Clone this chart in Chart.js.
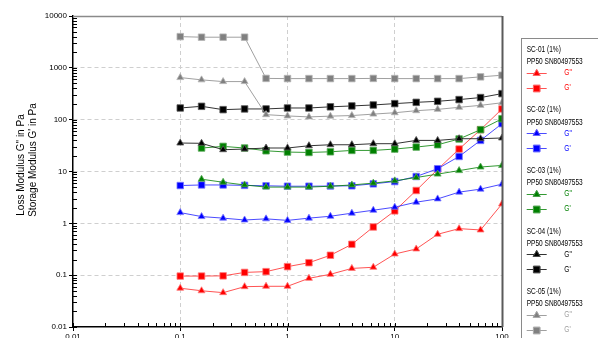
<!DOCTYPE html>
<html>
<head>
<meta charset="utf-8">
<script src="https://cdn.jsdelivr.net/npm/chart.js@4"></script>
<style>
html, body { margin: 0; padding: 0; background: #fff; overflow: hidden; }
#wrap { position: relative; width: 598px; height: 352px; }
</style>
</head>
<body>
<div id="wrap"><canvas id="modulusChart" width="598" height="352"></canvas></div>
<script>
// frequency points (Hz), 5 per decade
const freq = [0.1, 0.158, 0.251, 0.398, 0.631, 1, 1.585, 2.512, 3.981, 6.31, 10, 15.85, 25.12, 39.81, 63.1, 100];

const samples = ['SC-01 (1%)', 'SC-02 (1%)', 'SC-03 (1%)', 'SC-04 (1%)', 'SC-05 (1%)'];
const instrument = 'PP50 SN80497553';

// loss modulus G'' per sample
const sc01Loss = [0.056, 0.050, 0.046, 0.060, 0.061, 0.061, 0.087, 0.104, 0.135, 0.142, 0.256, 0.32, 0.615, 0.79, 0.745, 2.37];
const sc02Loss = [1.61, 1.35, 1.26, 1.16, 1.22, 1.14, 1.26, 1.37, 1.57, 1.79, 2.05, 2.56, 2.96, 4.0, 4.57, 5.7];
const sc03Loss = [null, 7.1, 6.2, 5.5, 5.0, 5.0, 5.0, 5.2, 5.5, 5.97, 6.6, 7.66, 8.9, 10.4, 12.2, 13.1];
const sc04Loss = [35.4, 35, 26.3, 27.1, 28.4, 28.4, 31.4, 32.8, 32.8, 34.4, 34.4, 39.8, 39.8, 42.9, 42.9, 44.3];
const sc05Loss = [649, 586, 543, 543, 125, 118, 113, 117, 120, 128, 136, 149, 158, 173, 189, 212];

// storage modulus G' per sample
const sc01Storage = [0.096, 0.096, 0.097, 0.113, 0.117, 0.146, 0.174, 0.242, 0.394, 0.85, 1.74, 4.3, 11, 27.1, 64.1, 161];
const sc02Storage = [5.36, 5.5, 5.5, 5.4, 5.3, 5.2, 5.2, 5.25, 5.3, 5.78, 6.4, 8.0, 11.3, 19.5, 39.8, 83.7];
const sc03Storage = [null, 28.4, 30.5, 28.4, 25.1, 23.7, 23.3, 24, 25.5, 25.5, 27.1, 29.6, 32.8, 42.4, 64.1, 104];
const sc04Storage = [168, 181, 156, 161, 161, 168, 168, 177, 184, 192, 204, 216, 226, 244, 267, 318];
const sc05Storage = [4000, 3900, 3900, 3900, 625, 620, 620, 620, 620, 625, 620, 620, 620, 620, 670, 720];

const lossSeries = [sc01Loss, sc02Loss, sc03Loss, sc04Loss, sc05Loss];
const storageSeries = [sc01Storage, sc02Storage, sc03Storage, sc04Storage, sc05Storage];

const markColors = ['#ff0000', '#0000ff', '#008000', '#000000', '#808080'];
const lineColors = ['rgba(255,40,40,0.8)', 'rgba(30,30,255,0.8)', 'rgba(0,128,0,0.8)', 'rgba(0,0,0,0.8)', 'rgba(150,150,150,0.9)'];
const edgeColors = ['rgba(255,120,120,0.8)', 'rgba(120,120,255,0.8)', 'rgba(90,170,90,0.8)', 'rgba(90,90,90,0.8)', 'rgba(180,180,180,0.8)'];
const labelColors = ['#ff0000', '#0000ff', '#008000', '#000000', '#a0a0a0'];

const toPoints = vals => freq.map((f, i) => ({ x: f, y: vals[i] }));

const datasets = [];
samples.forEach((name, i) => {
    datasets.push({
        label: 'G"', sample: i,
        data: toPoints(lossSeries[i]),
        borderColor: lineColors[i], borderWidth: 1,
        pointStyle: 'triangle', pointRadius: 4,
        pointBackgroundColor: markColors[i], pointBorderColor: edgeColors[i], pointBorderWidth: 1,
        order: 20 - 2 * i
    });
    datasets.push({
        label: "G'", sample: i,
        data: toPoints(storageSeries[i]),
        borderColor: lineColors[i], borderWidth: 1,
        pointStyle: 'rect', pointRadius: 4.6,
        pointBackgroundColor: markColors[i], pointBorderColor: edgeColors[i], pointBorderWidth: 1,
        order: 19 - 2 * i
    });
});

function isDecade(v) {
    const l = Math.log10(v);
    return Math.abs(l - Math.round(l)) < 1e-9;
}

function logTicks(scale, lo, hi) {
    const ticks = [];
    for (let e = lo; e < hi; e++) {
        for (let m = 1; m <= 9; m++) ticks.push({ value: parseFloat((m * Math.pow(10, e)).toPrecision(3)) });
    }
    ticks.push({ value: Math.pow(10, hi) });
    scale.ticks = ticks;
}

const tickFont = { family: "'Liberation Sans', Arial, sans-serif", size: 8 };

const gridColor = (scale) => (ctx) => {
    const v = ctx.tick && ctx.tick.value;
    if (!v || !isDecade(v) || v === scale.min || v === scale.max) return 'rgba(0,0,0,0)';
    return '#cfcfcf';
};

const frame = {
    id: 'frame',
    afterDraw(chart) {
        const { ctx, chartArea: a, scales: { x, y } } = chart;
        ctx.save();

        // inward tick marks
        ctx.strokeStyle = '#000';
        ctx.lineWidth = 1;
        ctx.beginPath();
        y.ticks.forEach(t => {
            const py = Math.round(y.getPixelForValue(t.value)) + 0.5;
            ctx.moveTo(a.left, py);
            ctx.lineTo(a.left + 4, py);
        });
        x.ticks.forEach(t => {
            const px = Math.round(x.getPixelForValue(t.value)) + 0.5;
            ctx.moveTo(px, a.bottom);
            ctx.lineTo(px, a.bottom - 4);
        });
        ctx.stroke();

        // top and right frame
        ctx.strokeStyle = '#8a8a8a';
        ctx.lineWidth = 1.5;
        ctx.beginPath();
        ctx.moveTo(a.left, a.top + 0.5);
        ctx.lineTo(a.right, a.top + 0.5);
        ctx.stroke();
        ctx.strokeStyle = '#5a5a5a';
        ctx.lineWidth = 2;
        ctx.beginPath();
        ctx.moveTo(a.right + 0.5, a.top);
        ctx.lineTo(a.right + 0.5, a.bottom);
        ctx.stroke();

        // y axis title, two lines
        ctx.fillStyle = '#000';
        ctx.font = "10px 'Liberation Sans', Arial, sans-serif";
        ctx.textAlign = 'center';
        ctx.textBaseline = 'middle';
        [['Loss Modulus G" in Pa', 21.7, 165], ["Storage Modulus G' in Pa", 33.3, 160]].forEach(([t, tx, ty]) => {
            ctx.save();
            ctx.translate(tx, ty);
            ctx.rotate(-Math.PI / 2);
            ctx.fillText(t, 0, 0);
            ctx.restore();
        });

        // legend box
        const lx = 521.5, ly = 38.5;
        ctx.strokeStyle = '#8a8a8a';
        ctx.lineWidth = 1;
        ctx.strokeRect(lx, ly, 120, 330);

        ctx.font = "9px 'Liberation Sans', Arial, sans-serif";
        ctx.textAlign = 'left';
        const squeeze = 56 / ctx.measureText(instrument).width;
        const text = (t, tx, ty, color) => {
            ctx.save();
            ctx.fillStyle = color;
            ctx.translate(tx, ty);
            ctx.scale(squeeze, 1);
            ctx.fillText(t, 0, 0);
            ctx.restore();
        };
        samples.forEach((name, i) => {
            const gy = 49.3 + i * 60.6;
            text(name, 526.7, gy, '#000');
            text(instrument, 526.7, gy + 12.3, '#000');
            [[gy + 23.3, 2 * i], [gy + 38.3, 2 * i + 1]].forEach(([ry, di]) => {
                const ds = chart.data.datasets[di];
                ctx.strokeStyle = ds.borderColor;
                ctx.lineWidth = 1;
                ctx.beginPath();
                ctx.moveTo(526.7, Math.round(ry) + 0.5);
                ctx.lineTo(546.7, Math.round(ry) + 0.5);
                ctx.stroke();
                Chart.helpers.drawPoint(ctx, {
                    pointStyle: ds.pointStyle, radius: ds.pointRadius, borderWidth: 1, rotation: 0
                }, 536.7, Math.round(ry) + 0.5);
                ctx.fillStyle = ds.pointBackgroundColor;
                ctx.strokeStyle = ds.pointBorderColor;
                ctx.fill();
                ctx.stroke();
                text(ds.label, 564.3, ry, labelColors[i]);
            });
        });

        ctx.restore();
    }
};

new Chart(document.getElementById('modulusChart'), {
    type: 'line',
    data: { datasets },
    plugins: [frame],
    options: {
        responsive: false,
        animation: false,
        devicePixelRatio: 1,
        layout: { padding: { top: 16, right: 96, left: 0, bottom: 0 } },
        plugins: { legend: { display: false }, tooltip: { enabled: false } },
        elements: { line: { tension: 0 } },
        scales: {
            x: {
                type: 'logarithmic',
                min: 0.01, max: 100,
                afterBuildTicks: s => logTicks(s, -2, 2),
                afterFit: s => { s.height = 25; },
                ticks: {
                    autoSkip: false, maxRotation: 0, padding: 1,
                    color: '#000', font: tickFont,
                    callback: v => isDecade(v) ? String(v) : ''
                },
                grid: {
                    color: c => gridColor({ min: 0.01, max: 100 })(c),
                    tickLength: 4, tickWidth: 1, tickBorderDash: [],
                    tickColor: c => (c.tick && isDecade(c.tick.value)) ? '#000' : 'rgba(0,0,0,0)'
                },
                border: { display: true, color: '#000', width: 1.5, dash: [4, 3] }
            },
            y: {
                type: 'logarithmic',
                min: 0.01, max: 10000,
                afterBuildTicks: s => logTicks(s, -2, 4),
                afterFit: s => { s.width = 73; },
                ticks: {
                    autoSkip: false, padding: 2,
                    color: '#000', font: tickFont,
                    callback: v => isDecade(v) ? String(v) : ''
                },
                grid: {
                    color: c => gridColor({ min: 0.01, max: 10000 })(c),
                    tickLength: 4, tickWidth: 1, tickBorderDash: [],
                    tickColor: c => (c.tick && isDecade(c.tick.value)) ? '#000' : 'rgba(0,0,0,0)'
                },
                border: { display: true, color: '#000', width: 1.5, dash: [4, 3] }
            }
        }
    }
});
</script>
</body>
</html>
